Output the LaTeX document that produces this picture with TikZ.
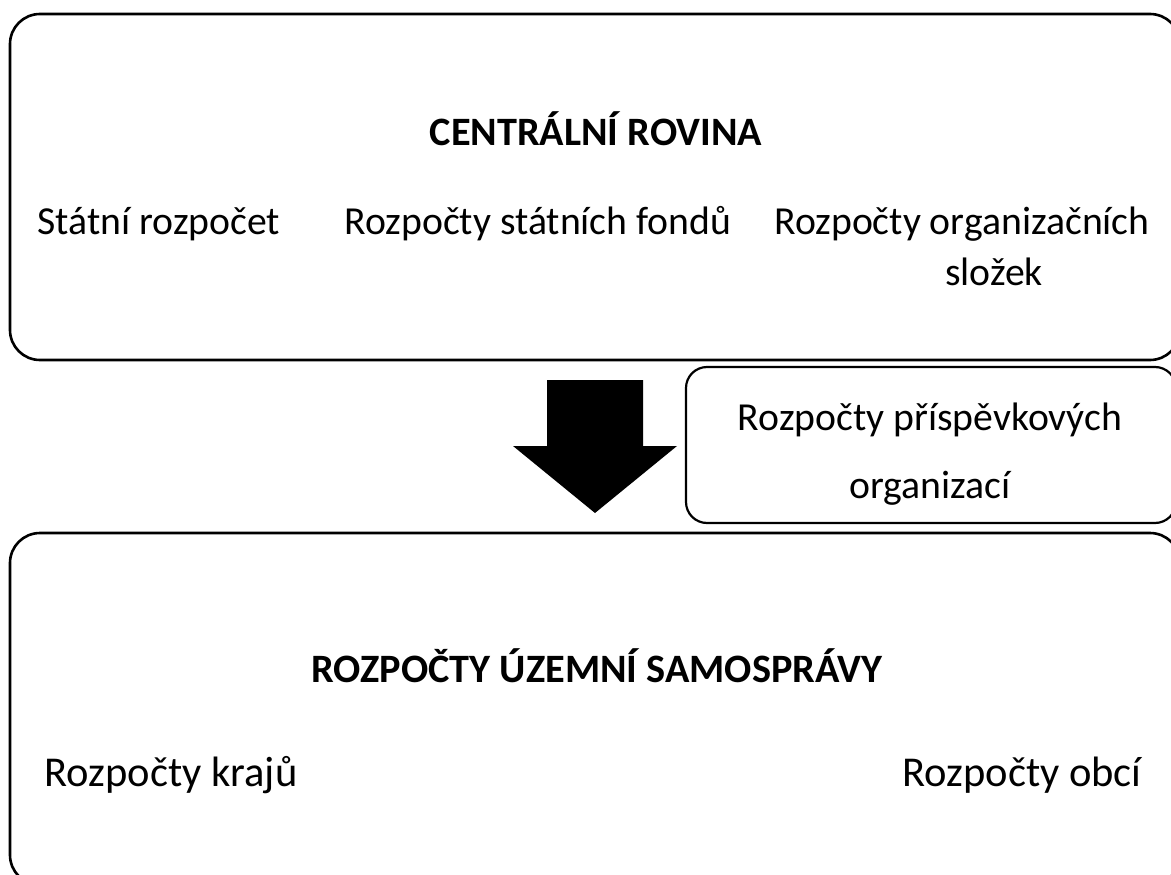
\documentclass[tikz,border=0pt]{standalone}
\usepackage{fontspec}
\setmainfont{Carlito}
\begin{document}
\begin{tikzpicture}[x=1pt,y=-1pt,
  box/.style={draw=black,line width=2.6pt,rounded corners=30pt},
  smallbox/.style={draw=black,line width=2.2pt,rounded corners=21pt},
  txt/.style={anchor=base,inner sep=0pt,font=\fontsize{39.7}{47}\selectfont},
  bigtxt/.style={anchor=base,inner sep=0pt,font=\fontsize{42.5}{50}\selectfont},
  btxt/.style={anchor=base,inner sep=0pt,font=\fontsize{40.3}{48}\selectfont\bfseries}]
\useasboundingbox (0,0) rectangle (1171,875);
\clip (0,0) rectangle (1171,875);
\fill[white] (0,0) rectangle (1171,875);
% boxes
\draw[box] (10,14) rectangle (1180,360);
\draw[smallbox] (686,367) rectangle (1176,523);
\draw[box] (10,533) rectangle (1180,885);
% arrow
\fill[black] (547,380) -- (643,380) -- (643,446) -- (677,446) -- (595,513) -- (513,446) -- (547,446) -- cycle;
% texts
\node[btxt] (central) at (596,146) {CENTRÁLNÍ ROVINA};
\node[txt] (sr) at (159,234) {Státní rozpočet};
\node[txt] (sf) at (538,234) {Rozpočty státních fondů};
\node[txt] (os1) at (962,234) {Rozpočty organizačních};
\node[txt] (os2) at (994,285) {složek};
\node[txt] (po1) at (930,430) {Rozpočty příspěvkových};
\node[txt] (po2) at (930,498) {organizací};
\node[btxt] (uzs) at (597,682) {ROZPOČTY ÚZEMNÍ SAMOSPRÁVY};
\node[bigtxt] (kr) at (171,786) {Rozpočty krajů};
\node[bigtxt] (ob) at (1022,786) {Rozpočty obcí};
\end{tikzpicture}
\end{document}
